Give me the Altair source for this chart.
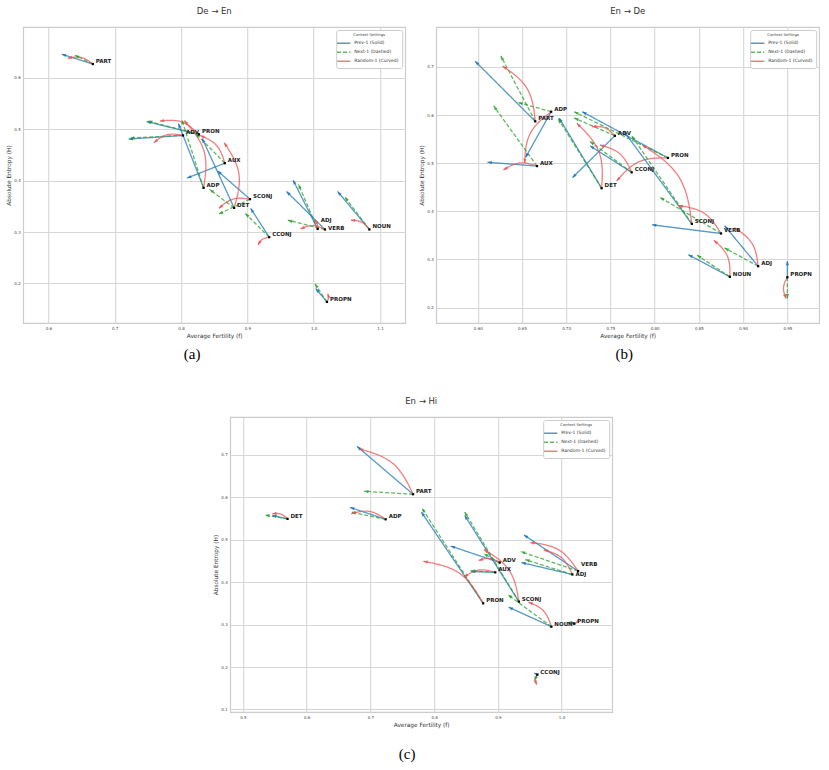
import math
import altair as alt
import pandas as pd

SERIES = ["Prev-1 (Solid)", "Next-1 (Dashed)", "Random-1 (Curved)"]
COLORS = ["#1f77b4", "#2ca02c", "#eb5656"]
DASHES = [[1, 0], [4, 2], [1, 0]]
RAD = 0.3
ARROW = "M0,0L0.6,1.6L-0.6,1.6Z"
LEGEND_LINE = "M-1.9,0L1.9,0"

# ---------------- Panel (a): De -> En ----------------
A_TAGS = ["PART", "ADV", "PRON", "AUX", "ADP", "SCONJ", "DET", "CCONJ", "ADJ", "VERB", "NOUN", "PROPN"]
A_FERT = [0.667, 0.803, 0.827, 0.866, 0.834, 0.904, 0.880, 0.933, 1.006, 1.017, 1.084, 1.020]
A_ENT = [0.627, 0.488, 0.490, 0.434, 0.386, 0.364, 0.347, 0.290, 0.306, 0.305, 0.305, 0.164]
A_PREV_F = [0.620, 0.721, 0.748, 0.809, 0.796, 0.855, 0.832, 0.905, 0.969, 0.959, 1.036, 1.003]
A_PREV_H = [0.646, 0.481, 0.515, 0.405, 0.511, 0.419, 0.482, 0.346, 0.401, 0.379, 0.379, 0.190]
A_NEXT_F = [0.640, 0.723, 0.750, 0.822, 0.801, 0.857, 0.843, 0.897, 0.977, 0.961, 1.047, 1.002]
A_NEXT_H = [0.644, 0.483, 0.516, 0.492, 0.519, 0.335, 0.383, 0.336, 0.393, 0.323, 0.368, 0.199]
A_RAND_F = [0.629, 0.759, 0.768, 0.829, 0.805, 0.857, 0.865, 0.916, 1.001, 0.980, 1.056, 1.021]
A_RAND_H = [0.638, 0.474, 0.516, 0.488, 0.517, 0.346, 0.474, 0.275, 0.323, 0.306, 0.323, 0.180]
A_XTICKS = [0.6, 0.7, 0.8, 0.9, 1.0, 1.1]
A_YTICKS = [0.2, 0.3, 0.4, 0.5, 0.6]

# ---------------- Panel (b): En -> De ----------------
B_TAGS = ["ADP", "PART", "AUX", "ADV", "PRON", "CCONJ", "DET", "SCONJ", "VERB", "ADJ", "NOUN", "PROPN"]
B_FERT = [0.683, 0.665, 0.667, 0.755, 0.815, 0.774, 0.740, 0.842, 0.875, 0.917, 0.885, 0.950]
B_ENT = [0.607, 0.587, 0.494, 0.557, 0.511, 0.481, 0.448, 0.374, 0.354, 0.286, 0.264, 0.263]
B_PREV_F = [0.654, 0.597, 0.611, 0.707, 0.718, 0.727, 0.692, 0.765, 0.797, 0.879, 0.838, 0.950]
B_PREV_H = [0.512, 0.712, 0.502, 0.470, 0.607, 0.536, 0.594, 0.567, 0.372, 0.370, 0.310, 0.297]
B_NEXT_F = [0.646, 0.626, 0.618, 0.709, 0.709, 0.727, 0.691, 0.774, 0.806, 0.879, 0.848, 0.950]
B_NEXT_H = [0.626, 0.723, 0.619, 0.594, 0.607, 0.545, 0.592, 0.557, 0.429, 0.324, 0.309, 0.219]
B_RAND_F = [0.653, 0.628, 0.629, 0.729, 0.757, 0.738, 0.712, 0.786, 0.827, 0.890, 0.867, 0.9485]
B_RAND_H = [0.500, 0.702, 0.486, 0.576, 0.463, 0.538, 0.583, 0.538, 0.412, 0.366, 0.340, 0.219]
B_XTICKS = [0.60, 0.65, 0.70, 0.75, 0.80, 0.85, 0.90, 0.95]
B_YTICKS = [0.2, 0.3, 0.4, 0.5, 0.6, 0.7]

# ---------------- Panel (c): En -> Hi ----------------
C_TAGS = ["PART", "DET", "ADP", "ADV", "AUX", "PRON", "SCONJ", "NOUN", "PROPN", "VERB", "ADJ", "CCONJ"]
C_FERT = [0.767, 0.570, 0.724, 0.903, 0.896, 0.877, 0.933, 0.984, 1.020, 1.026, 1.017, 0.962]
C_ENT = [0.607, 0.549, 0.548, 0.446, 0.423, 0.350, 0.354, 0.295, 0.302, 0.426, 0.418, 0.182]
C_PREV_F = [0.679, 0.546, 0.668, 0.826, 0.858, 0.780, 0.848, 0.917, 1.014, 0.941, 0.937, 0.957]
C_PREV_H = [0.720, 0.557, 0.576, 0.485, 0.425, 0.565, 0.557, 0.341, 0.307, 0.511, 0.446, 0.186]
C_NEXT_F = [0.690, 0.535, 0.670, 0.878, 0.857, 0.781, 0.848, 0.916, 1.008, 0.936, 0.943, 0.957]
C_NEXT_H = [0.614, 0.558, 0.565, 0.467, 0.427, 0.574, 0.565, 0.370, 0.305, 0.472, 0.453, 0.168]
C_RAND_F = [0.682, 0.546, 0.670, 0.870, 0.847, 0.783, 0.878, 0.948, 1.027, 0.951, 0.972, 0.961]
C_RAND_H = [0.714, 0.561, 0.561, 0.451, 0.412, 0.449, 0.477, 0.353, 0.314, 0.493, 0.476, 0.158]
C_XTICKS = [0.5, 0.6, 0.7, 0.8, 0.9, 1.0]
C_YTICKS = [0.1, 0.2, 0.3, 0.4, 0.5, 0.6, 0.7]

# label vertical nudges (pixels) where labels would collide
A_NUDGE = {"ADJ": -6, "VERB": 2}
B_NUDGE = {}
C_NUDGE = {"VERB": -4, "ADJ": 3}


def panel(tags, fert, ent, pf, ph, nf, nh, rf, rh, xdom, ydom, W, H,
          xticks, yticks, xfmt, title, caption, cap_x, cap_y, nudge):
    def sx(v):
        return (v - xdom[0]) / (xdom[1] - xdom[0]) * W

    def sy(v):
        return (v - ydom[0]) / (ydom[1] - ydom[0]) * H

    def ix(p):
        return xdom[0] + p / W * (xdom[1] - xdom[0])

    def iy(p):
        return ydom[0] + p / H * (ydom[1] - ydom[0])

    lines, heads = [], []
    for i, t in enumerate(tags):
        ends = [(pf[i], ph[i]), (nf[i], nh[i]), (rf[i], rh[i])]
        for j, s in enumerate(SERIES):
            ex, ey = ends[j]
            X0, Y0, X1, Y1 = sx(fert[i]), sy(ent[i]), sx(ex), sy(ey)
            pts = [(X0, Y0)]
            if j == 2:
                mx, my = (X0 + X1) / 2, (Y0 + Y1) / 2
                dx, dy = X1 - X0, Y1 - Y0
                pts.append((mx + 0.75 * RAD * dy, my - 0.75 * RAD * dx))
            pts.append((X1, Y1))
            for k, (px, py) in enumerate(pts):
                lines.append({"x": ix(px), "y": iy(py), "series": s,
                              "aid": f"{t}-{j}", "k": k})
            qx, qy = pts[-2]
            ang = math.degrees(math.atan2(X1 - qx, Y1 - qy)) % 360
            heads.append({"x": ex, "y": ey, "series": s, "angle": ang})
    lines = pd.DataFrame(lines)
    heads = pd.DataFrame(heads)
    pts_df = pd.DataFrame({"x": fert, "y": ent, "tag": tags,
                           "ny": [nudge.get(t, 0) for t in tags]})

    xenc = alt.X("x:Q", scale=alt.Scale(domain=xdom, nice=False, zero=False),
                 axis=alt.Axis(values=xticks, format=xfmt, title="Average Fertility (f)"))
    yenc = alt.Y("y:Q", scale=alt.Scale(domain=ydom, nice=False, zero=False),
                 axis=alt.Axis(values=yticks, format=".1f", title="Absolute Entropy (H)"))

    line_layer = alt.Chart(lines).mark_line(interpolate="basis", strokeWidth=1.3,
                                            opacity=0.75).encode(
        x=xenc, y=yenc,
        color=alt.Color("series:N", scale=alt.Scale(domain=SERIES, range=COLORS),
                        legend=alt.Legend(title="Context Settings")),
        strokeDash=alt.StrokeDash("series:N", scale=alt.Scale(domain=SERIES, range=DASHES),
                                  legend=alt.Legend(title="Context Settings")),
        detail="aid:N",
        order="k:Q",
    )
    head_layer = alt.Chart(heads).mark_point(filled=True, shape=ARROW, size=30,
                                             strokeWidth=0, opacity=0.85).encode(
        x=xenc, y=yenc,
        fill=alt.Fill("series:N", scale=alt.Scale(domain=SERIES, range=COLORS), legend=None),
        angle=alt.Angle("angle:Q", scale=None),
    )
    dot_layer = alt.Chart(pts_df).mark_point(filled=True, shape="square", size=5,
                                             color="black", opacity=1).encode(x=xenc, y=yenc)
    label_layers = []
    for nv in sorted(set(pts_df["ny"])):
        sub = pts_df[pts_df["ny"] == nv]
        label_layers.append(
            alt.Chart(sub).mark_text(
                align="left", baseline="middle", dx=3, dy=-3 + int(nv), font="DejaVu Sans",
                fontWeight="bold", fontSize=5.5, color="#222222"
            ).encode(x=xenc, y=yenc, text="tag:N")
        )
    cap_layer = alt.Chart(pd.DataFrame({"cap": [caption]})).mark_text(
        font="Liberation Serif", fontSize=15, color="black", baseline="middle", align="center"
    ).encode(text="cap:N", x=alt.value(cap_x), y=alt.value(cap_y))

    return alt.layer(line_layer, head_layer, dot_layer, *label_layers, cap_layer).properties(
        width=W, height=H, title=title
    )


chart_a = panel(A_TAGS, A_FERT, A_ENT, A_PREV_F, A_PREV_H, A_NEXT_F, A_NEXT_H, A_RAND_F, A_RAND_H,
                [0.562, 1.138], [0.123, 0.699], 382, 296, A_XTICKS, A_YTICKS, ".1f",
                "De → En", "(a)", 169, 327, A_NUDGE)
chart_b = panel(B_TAGS, B_FERT, B_ENT, B_PREV_F, B_PREV_H, B_NEXT_F, B_NEXT_H, B_RAND_F, B_RAND_H,
                [0.553, 0.986], [0.168, 0.783], 383, 296, B_XTICKS, B_YTICKS, ".2f",
                "En → De", "(b)", 188, 327, B_NUDGE)
chart_c = panel(C_TAGS, C_FERT, C_ENT, C_PREV_F, C_PREV_H, C_NEXT_F, C_NEXT_H, C_RAND_F, C_RAND_H,
                [0.480, 1.0795], [0.094, 0.789], 382, 295, C_XTICKS, C_YTICKS, ".1f",
                "En → Hi", "(c)", 177, 337, C_NUDGE)

RES = dict(color="independent", strokeDash="independent", fill="independent")

top = alt.hconcat(chart_a, chart_b, spacing=12).resolve_scale(**RES)
chart = alt.vconcat(top, chart_c, spacing=32, center=True).resolve_scale(**RES).properties(
    padding={"left": 5, "top": 5, "right": 0, "bottom": 0},
    background="white",
).configure_view(
    stroke="#cccccc", strokeWidth=1.2
).configure_axis(
    grid=True, gridColor="#d6d6d6", gridWidth=1.1, ticks=False, domain=False,
    labelFont="DejaVu Sans", labelFontSize=4, labelColor="#444444", labelPadding=3,
    titleFont="DejaVu Sans", titleFontSize=5.8, titleFontWeight="normal",
    titleColor="#333333", titlePadding=2,
).configure_legend(
    orient="top-right", offset=3, fillColor="white", strokeColor="#cccccc", padding=3,
    cornerRadius=2, titleFont="DejaVu Sans", titleFontSize=3.8, titleFontWeight="normal",
    titleColor="#333333", titleAnchor="middle", titlePadding=2,
    labelFont="DejaVu Sans", labelFontSize=4.5, labelColor="#333333", labelOffset=6,
    symbolType=LEGEND_LINE, symbolSize=49, symbolStrokeWidth=1.5, rowPadding=1,
).configure_title(
    font="DejaVu Sans", fontSize=8.5, fontWeight="normal", color="#333333", offset=12,
)

chart.save("out.html", embed_options={"renderer": "svg", "actions": False})
